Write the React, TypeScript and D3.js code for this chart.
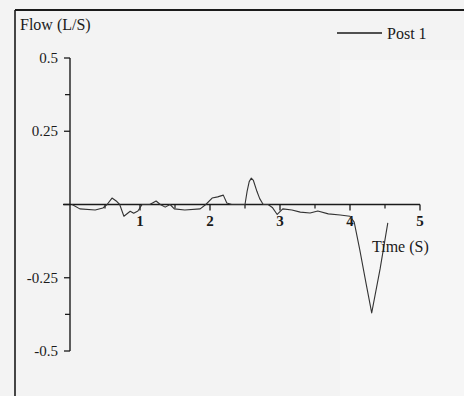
import React from "react";
import * as d3 from "d3";

// Flow trace for Post 1 (time in seconds, flow in L/S)
const timeS = [
  0.03, 0.14, 0.36, 0.47, 0.53, 0.6, 0.67, 0.71, 0.77, 0.86, 0.91, 0.97, 1.03,
  1.14, 1.23, 1.29, 1.36, 1.43, 1.49, 1.64, 1.86, 1.94, 2.03, 2.11, 2.19, 2.24,
  2.31, 2.5, 2.53, 2.56, 2.59, 2.62, 2.67, 2.71, 2.76, 2.83, 2.89, 2.96, 3.04,
  3.17, 3.29, 3.43, 3.54, 3.69, 3.86, 3.97, 4.0, 4.06, 4.14, 4.23, 4.31, 4.43,
  4.54,
];
const flowLS = [
  0, -0.015, -0.019, -0.012, 0, 0.022, 0.01, 0, -0.04, -0.023, -0.03, -0.022, 0,
  0, 0.012, 0, -0.009, 0, -0.015, -0.019, -0.015, 0, 0.022, 0.026, 0.032, 0.005,
  0, 0, 0.045, 0.078, 0.09, 0.082, 0.045, 0.02, 0, 0, -0.01, -0.034, -0.015,
  -0.019, -0.026, -0.029, -0.022, -0.032, -0.036, -0.039, -0.04, -0.06, -0.155,
  -0.27, -0.37, -0.22, -0.063,
];

const xMajor = [1, 2, 3, 4, 5];
const xMinor = [0.5, 1.5, 2.5, 3.5, 4.5];
const yMajor = [0.5, 0.25, 0, -0.25, -0.5];
const yLabels = ["0.5", "0.25", "", "-0.25", "-0.5"];
const yMinor = [0.375, -0.375];

const seriesName = "Post 1";
const yTitle = "Flow (L/S)";
const xTitle = "Time (S)";

const W = 464;
const H = 396;
const FONT = "'Liberation Serif', 'DejaVu Serif', serif";
const INK = "#1a1a1a";

export default function App() {
  const x = d3.scaleLinear().domain([0, 5]).range([70, 420]);
  const y = d3.scaleLinear().domain([-0.5, 0.5]).range([351, 58]);

  const pts: [number, number][] = timeS.map((t, i) => [t, flowLS[i]]);
  const line = d3
    .line<[number, number]>()
    .x((d) => x(d[0]))
    .y((d) => y(d[1]))
    .curve(d3.curveLinear);

  const y0 = y(0);

  return (
    <svg
      width={W}
      height={H}
      style={{ position: "absolute", left: 0, top: 0, background: "#f3f3f3" }}
      fontFamily={FONT}
    >
      <rect x={0} y={0} width={W} height={H} fill="#f3f3f3" />
      <rect x={340} y={60} width={124} height={336} fill="#f6f6f6" />

      {/* outer frame */}
      <line x1={15} x2={W} y1={10} y2={10} stroke={INK} strokeWidth={2.2} />
      <line x1={15} x2={15} y1={10} y2={H} stroke={INK} strokeWidth={1.6} />

      {/* y axis */}
      <line x1={x(0)} x2={x(0)} y1={y(0.5)} y2={y(-0.5)} stroke={INK} strokeWidth={1.4} />
      {yMajor.map((v, i) => (
        <g key={"ym" + v}>
          <line x1={x(0) - 6} x2={x(0)} y1={y(v)} y2={y(v)} stroke={INK} strokeWidth={1.3} />
          {yLabels[i] && (
            <text x={58} y={y(v) + 5} fontSize={15} textAnchor="end" fill={INK}>
              {yLabels[i]}
            </text>
          )}
        </g>
      ))}
      {yMinor.map((v) => (
        <line key={"yn" + v} x1={x(0) - 5} x2={x(0)} y1={y(v)} y2={y(v)} stroke={INK} strokeWidth={1.3} />
      ))}

      {/* x axis */}
      <line x1={x(0) - 7} x2={x(5)} y1={y0} y2={y0} stroke={INK} strokeWidth={1.6} />
      {xMajor.map((t) => (
        <g key={"xm" + t}>
          <line x1={x(t)} x2={x(t)} y1={y0} y2={y0 + 6} stroke={INK} strokeWidth={1.3} />
          <text x={x(t)} y={226} fontSize={15} textAnchor="middle" fill={INK} fontWeight="bold">
            {t}
          </text>
        </g>
      ))}
      {xMinor.map((t) => (
        <line key={"xn" + t} x1={x(t)} x2={x(t)} y1={y0} y2={y0 + 4} stroke={INK} strokeWidth={1.2} />
      ))}

      {/* series */}
      <path d={line(pts) ?? ""} fill="none" stroke="#333" strokeWidth={1.1} strokeLinejoin="round" />

      {/* titles */}
      <text x={20} y={30} fontSize={16} fill={INK}>
        {yTitle}
      </text>
      <text x={372} y={252} fontSize={16} fill={INK}>
        {xTitle}
      </text>

      {/* legend */}
      <line x1={337} x2={382} y1={33} y2={33} stroke={INK} strokeWidth={1.6} />
      <text x={387} y={39} fontSize={16} fill={INK}>
        {seriesName}
      </text>
    </svg>
  );
}
